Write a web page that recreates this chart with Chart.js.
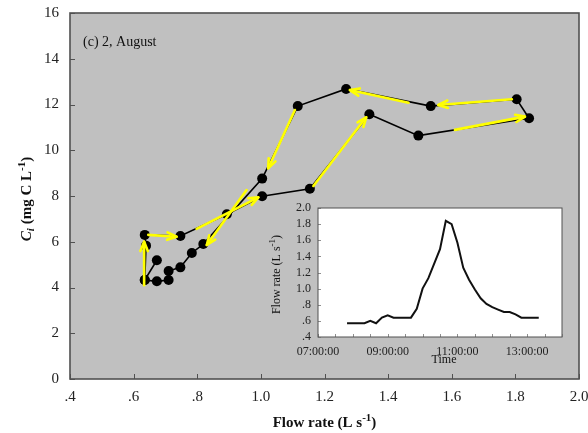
<!DOCTYPE html>
<html lang="en">
<head>
<meta charset="UTF-8">
<title>DOC hysteresis - 2 August</title>
<script src="https://cdn.jsdelivr.net/npm/chart.js"></script>
<style>
    body { margin: 0; background: #fff; }
    .wrap { position: relative; width: 588px; height: 433px; }
    #mainChart { position: absolute; left: 0; top: 0; }
    #insetChart { position: absolute; left: 255px; top: 200px; }
</style>
</head>
<body>
<div class="wrap">
    <canvas id="mainChart" width="588" height="433"></canvas>
    <canvas id="insetChart" width="320" height="170"></canvas>
</div>
<script>
// hysteresis loop, in time order (flow L/s, DOC mg C/L)
const flowRate = [0.673, 0.635, 0.639, 0.635, 0.747, 0.893, 1.004, 1.154, 1.341, 1.495, 1.843, 1.804, 1.534, 1.268, 1.116, 1.004, 0.819, 0.783, 0.747, 0.710, 0.710, 0.673, 0.635];
const docConc  = [5.19, 4.33, 5.83, 6.30, 6.25, 7.20, 7.99, 8.32, 11.57, 10.64, 11.40, 12.23, 11.93, 12.68, 11.93, 8.76, 5.90, 5.51, 4.88, 4.72, 4.33, 4.27, 4.33];

// yellow direction arrows (data units)
const arrowX0 = [0.633, 0.646, 0.798, 0.955, 1.107, 1.165, 1.610, 1.789, 1.464];
const arrowY0 = [4.10, 6.30, 6.56, 8.26, 11.76, 8.44, 10.89, 12.23, 12.08];
const arrowX1 = [0.633, 0.735, 0.992, 0.830, 1.023, 1.331, 1.830, 1.558, 1.280];
const arrowY1 = [6.00, 6.22, 7.94, 5.86, 9.21, 11.44, 11.47, 11.98, 12.63];

// inset hydrograph
const insetTimes = ['07:50:00', '08:00:00', '08:10:00', '08:20:00', '08:30:00', '08:40:00', '08:50:00',
    '09:00:00', '09:10:00', '09:20:00', '09:30:00', '09:40:00', '09:50:00', '10:00:00', '10:10:00',
    '10:20:00', '10:30:00', '10:40:00', '10:50:00', '11:00:00', '11:10:00', '11:20:00', '11:30:00',
    '11:40:00', '11:50:00', '12:00:00', '12:10:00', '12:20:00', '12:30:00', '12:40:00', '12:50:00',
    '13:00:00', '13:10:00', '13:20:00'];
const insetFlow = [0.57, 0.57, 0.57, 0.57, 0.60, 0.57, 0.64, 0.67, 0.64, 0.64, 0.64, 0.64, 0.75, 1.00,
    1.13, 1.31, 1.49, 1.84, 1.80, 1.57, 1.26, 1.11, 0.99, 0.88, 0.81, 0.77, 0.74, 0.71, 0.71, 0.68,
    0.64, 0.64, 0.64, 0.64];

const SERIF = 'Liberation Serif';

function fmtDec(v) {
    const r = Math.round(v * 10) / 10;
    return r < 1 ? '.' + Math.round(r * 10) : r.toFixed(1);
}
function toHours(s) {
    const p = s.split(':').map(Number);
    return p[0] + p[1] / 60 + p[2] / 3600;
}

function richText(ctx, parts, x, y, angle) {
    ctx.save();
    ctx.translate(x, y);
    ctx.rotate(angle);
    ctx.textAlign = 'left';
    ctx.textBaseline = 'alphabetic';
    ctx.fillStyle = '#111';
    let total = 0;
    parts.forEach(p => { ctx.font = p.font; total += ctx.measureText(p.text).width; });
    let cx = -total / 2;
    parts.forEach(p => {
        ctx.font = p.font;
        ctx.fillText(p.text, cx, p.dy || 0);
        cx += ctx.measureText(p.text).width;
    });
    ctx.restore();
}

// plot area fill, border and inward tick marks
const framePlugin = {
    id: 'frame',
    beforeDraw(chart, args, opts) {
        const a = chart.chartArea, ctx = chart.ctx;
        ctx.save();
        ctx.fillStyle = opts.fill;
        ctx.fillRect(a.left, a.top, a.right - a.left, a.bottom - a.top);
        ctx.restore();
    },
    afterDraw(chart, args, opts) {
        const a = chart.chartArea, ctx = chart.ctx;
        ctx.save();
        ctx.strokeStyle = opts.tickColor;
        ctx.lineWidth = 1;
        const xs = chart.scales.x, ys = chart.scales.y;
        xs.ticks.forEach(t => {
            const px = Math.round(xs.getPixelForValue(t.value)) + 0.5;
            ctx.beginPath(); ctx.moveTo(px, a.bottom); ctx.lineTo(px, a.bottom - opts.tickLen); ctx.stroke();
        });
        ys.ticks.forEach(t => {
            const py = Math.round(ys.getPixelForValue(t.value)) + 0.5;
            ctx.beginPath(); ctx.moveTo(a.left, py); ctx.lineTo(a.left + opts.tickLen, py); ctx.stroke();
        });
        ctx.strokeStyle = opts.border;
        ctx.lineWidth = opts.borderWidth;
        ctx.strokeRect(a.left, a.top, a.right - a.left, a.bottom - a.top);
        ctx.restore();
    }
};

const arrowPlugin = {
    id: 'arrows',
    afterDatasetsDraw(chart) {
        const xs = chart.scales.x, ys = chart.scales.y, ctx = chart.ctx;
        ctx.save();
        ctx.strokeStyle = '#ffff00';
        ctx.lineWidth = 2.6;
        ctx.lineCap = 'round';
        ctx.lineJoin = 'round';
        for (let i = 0; i < arrowX0.length; i++) {
            const x0 = xs.getPixelForValue(arrowX0[i]), y0 = ys.getPixelForValue(arrowY0[i]);
            const x1 = xs.getPixelForValue(arrowX1[i]), y1 = ys.getPixelForValue(arrowY1[i]);
            const ang = Math.atan2(y1 - y0, x1 - x0);
            const L = 10, w = 0.38;
            ctx.beginPath();
            ctx.moveTo(x0, y0); ctx.lineTo(x1, y1);
            ctx.stroke();
            ctx.beginPath();
            ctx.moveTo(x1 - L * Math.cos(ang - w), y1 - L * Math.sin(ang - w));
            ctx.lineTo(x1, y1);
            ctx.lineTo(x1 - L * Math.cos(ang + w), y1 - L * Math.sin(ang + w));
            ctx.stroke();
        }
        ctx.restore();
    }
};

const mainTitles = {
    id: 'mainTitles',
    afterDraw(chart) {
        const a = chart.chartArea, ctx = chart.ctx;
        ctx.save();
        ctx.fillStyle = '#111';
        ctx.font = '14px ' + SERIF;
        ctx.textBaseline = 'alphabetic';
        ctx.fillText('(c) 2, August', a.left + 13, a.top + 33);
        ctx.restore();
        const b = 'bold 15px ' + SERIF, s = 'bold 11px ' + SERIF;
        richText(ctx, [
            { text: 'Flow rate (L s', font: b },
            { text: '-1', font: s, dy: -6 },
            { text: ')', font: b }
        ], (a.left + a.right) / 2, 426.5, 0);
        richText(ctx, [
            { text: 'C', font: 'bold italic 15px ' + SERIF },
            { text: 'i', font: 'bold italic 11px ' + SERIF, dy: 3 },
            { text: ' (mg C L', font: b },
            { text: '-1', font: s, dy: -6 },
            { text: ')', font: b }
        ], 30.5, (a.top + a.bottom) / 2 + 3, -Math.PI / 2);
    }
};

const insetTitles = {
    id: 'insetTitles',
    afterDraw(chart) {
        const a = chart.chartArea, ctx = chart.ctx;
        const f = '12px ' + SERIF;
        richText(ctx, [
            { text: 'Flow rate (L s', font: f },
            { text: '-1', font: '9px ' + SERIF, dy: -5 },
            { text: ')', font: f }
        ], 25, (a.top + a.bottom) / 2 + 2, -Math.PI / 2);
        richText(ctx, [{ text: 'Time', font: '12px ' + SERIF }], (a.left + a.right) / 2 + 4, 163, 0);
    }
};

window.onload = function() {
    const tickFont = { family: SERIF, size: 15 };

    new Chart(document.getElementById('mainChart'), {
        type: 'scatter',
        data: {
            datasets: [{
                data: flowRate.map((f, i) => ({ x: f, y: docConc[i] })),
                showLine: true,
                borderColor: '#000',
                borderWidth: 1.6,
                pointRadius: 5,
                pointBackgroundColor: '#000',
                pointBorderWidth: 0,
                tension: 0
            }]
        },
        options: {
            responsive: false,
            animation: false,
            layout: { padding: { left: 0, right: 9, top: 13, bottom: 0 } },
            plugins: {
                legend: { display: false },
                tooltip: { enabled: false },
                frame: { fill: '#c0c0c0', border: '#505050', borderWidth: 1.6, tickColor: '#505050', tickLen: 5 }
            },
            scales: {
                x: {
                    type: 'linear', min: 0.4, max: 2.0,
                    grid: { display: false, drawTicks: false },
                    border: { display: false },
                    ticks: { stepSize: 0.2, padding: 9, color: '#222', font: tickFont, callback: fmtDec, autoSkip: false, maxRotation: 0 },
                    afterFit(s) { s.height = 54; s.paddingLeft = 0; s.paddingRight = 0; }
                },
                y: {
                    type: 'linear', min: 0, max: 16,
                    grid: { display: false, drawTicks: false },
                    border: { display: false },
                    ticks: { stepSize: 2, padding: 11, color: '#222', font: tickFont, autoSkip: false },
                    afterFit(s) { s.width = 70; s.paddingTop = 0; s.paddingBottom = 0; }
                }
            }
        },
        plugins: [framePlugin, arrowPlugin, mainTitles]
    });

    const insetFont = { family: SERIF, size: 12 };
    new Chart(document.getElementById('insetChart'), {
        type: 'scatter',
        data: {
            datasets: [{
                data: insetTimes.map((t, i) => ({ x: toHours(t), y: insetFlow[i] })),
                showLine: true,
                borderColor: '#111',
                borderWidth: 2,
                pointRadius: 0,
                tension: 0
            }]
        },
        options: {
            responsive: false,
            animation: false,
            layout: { padding: { left: 0, right: 13, top: 8, bottom: 0 } },
            plugins: {
                legend: { display: false },
                tooltip: { enabled: false },
                frame: { fill: '#ffffff', border: '#505050', borderWidth: 1, tickColor: '#909090', tickLen: 3 }
            },
            scales: {
                x: {
                    type: 'linear', min: 7, max: 14,
                    grid: { display: false, drawTicks: false },
                    border: { display: false },
                    ticks: {
                        stepSize: 0.5, padding: 8, color: '#222', font: insetFont, autoSkip: false, maxRotation: 0,
                        callback: v => (Number.isInteger(v) && v % 2 === 1) ? String(v).padStart(2, '0') + ':00:00' : ''
                    },
                    afterFit(s) { s.height = 33; s.paddingLeft = 0; s.paddingRight = 0; }
                },
                y: {
                    type: 'linear', min: 0.4, max: 2.0,
                    grid: { display: false, drawTicks: false },
                    border: { display: false },
                    ticks: { stepSize: 0.2, padding: 7, color: '#222', font: insetFont, callback: fmtDec, autoSkip: false },
                    afterFit(s) { s.width = 63; s.paddingTop = 0; s.paddingBottom = 0; }
                }
            }
        },
        plugins: [framePlugin, insetTitles]
    });
};
</script>
</body>
</html>
